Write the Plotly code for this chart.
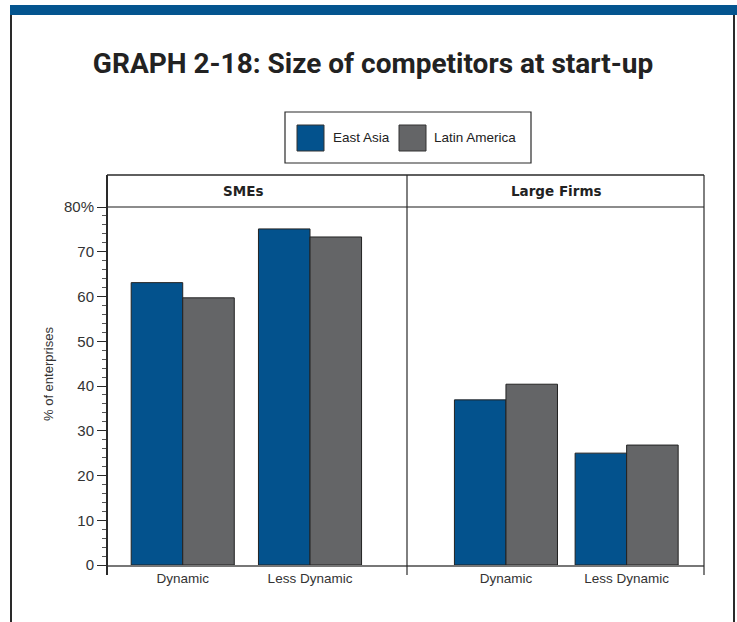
import plotly.graph_objects as go

# data
categories = ["Dynamic", "Less Dynamic"]
panels = ["SMEs", "Large Firms"]
series = ["East Asia", "Latin America"]
sme_east_asia = [63.1, 75.1]
sme_latin_america = [59.7, 73.3]
large_east_asia = [36.9, 25.0]
large_latin_america = [40.4, 26.8]
y_ticks = [0, 10, 20, 30, 40, 50, 60, 70, 80]
y_ticktext = ["0", "10", "20", "30", "40", "50", "60", "70", "80%"]

BLUE = "#03528d"
GREY = "#646567"
INK = "#2a2a2a"

W, H = 737, 622
L, R, T, B = 107, 704, 175, 565      # plot box in pixels (header included)


def px_x(px):
    return (px - L) / (R - L)


def px_y(py):
    return (B - py) / (B - T)


fig = go.Figure()

bar_line = dict(color="#222", width=1)
# SMEs panel
fig.add_trace(go.Bar(x=categories, y=sme_east_asia, name=series[0], marker=dict(color=BLUE, line=bar_line),
                     width=0.405, offset=-0.405, xaxis="x", yaxis="y", showlegend=False))
fig.add_trace(go.Bar(x=categories, y=sme_latin_america, name=series[1], marker=dict(color=GREY, line=bar_line),
                     width=0.405, offset=0, xaxis="x", yaxis="y", showlegend=False))
# Large firms panel
fig.add_trace(go.Bar(x=categories, y=large_east_asia, name=series[0], marker=dict(color=BLUE, line=bar_line),
                     width=0.427, offset=-0.427, xaxis="x2", yaxis="y", showlegend=False))
fig.add_trace(go.Bar(x=categories, y=large_latin_america, name=series[1], marker=dict(color=GREY, line=bar_line),
                     width=0.427, offset=0, xaxis="x2", yaxis="y", showlegend=False))

split = px_x(407)
head = px_y(207)
tick_font = dict(family="Liberation Sans, Arial, sans-serif", size=13.5, color="#333")

fig.update_layout(
    width=W, height=H, barmode="overlay",
    margin=dict(l=L, r=W - R, t=T, b=H - B),
    paper_bgcolor="white", plot_bgcolor="white",
    title=dict(text="GRAPH 2-18: Size of competitors at start-up",
               x=373 / W, y=1 - 63 / H, xref="container", yref="container",
               xanchor="center", yanchor="middle",
               font=dict(family="Roboto, Liberation Sans, sans-serif",
                         size=28, color="#222", weight="bold")),
    xaxis=dict(domain=[0, split], type="category", range=[-0.595, 1.762],
               showline=True, linecolor="#777", linewidth=1.5, ticks="",
               showgrid=False, tickfont=tick_font, ticklabelstandoff=0, fixedrange=True),
    xaxis2=dict(domain=[split, 1], type="category", range=[-0.820, 1.641], anchor="y",
                showline=True, linecolor="#777", linewidth=1.5, ticks="",
                showgrid=False, tickfont=tick_font, ticklabelstandoff=0, fixedrange=True),
    yaxis=dict(domain=[0, head], range=[0, 80], tickvals=y_ticks, ticktext=y_ticktext,
               ticks="outside", ticklen=9, tickcolor=INK, tickwidth=1,
               minor=dict(dtick=2, ticks="outside", ticklen=4, tickcolor="#555"),
               showgrid=False, zeroline=False, showline=False, fixedrange=True,
               tickfont=dict(family="Liberation Sans, Arial, sans-serif", size=15, color="#333")),
)

shapes = []
# top blue band and page frame
shapes.append(dict(type="rect", xref="paper", yref="paper", x0=px_x(10), x1=px_x(740),
                   y0=px_y(15), y1=px_y(5), fillcolor="#04558f", line=dict(width=0), layer="below"))
for fx in (11, 734):
    shapes.append(dict(type="line", xref="paper", yref="paper", x0=px_x(fx), x1=px_x(fx),
                       y0=px_y(630), y1=px_y(15), line=dict(color=INK, width=2)))
# panel frame
shapes.append(dict(type="line", xref="paper", yref="paper", x0=0, x1=1, y0=1, y1=1,
                   line=dict(color=INK, width=1.5)))
shapes.append(dict(type="line", xref="paper", yref="paper", x0=0, x1=1, y0=head, y1=head,
                   line=dict(color="#666", width=1.5)))
for fx, w in ((0, 2), (split, 1.2), (1, 1.2)):
    shapes.append(dict(type="line", xref="paper", yref="paper", x0=fx, x1=fx,
                       y0=px_y(575), y1=1, line=dict(color=INK, width=w)))
# legend box
shapes.append(dict(type="rect", xref="paper", yref="paper", x0=px_x(285), x1=px_x(531),
                   y0=px_y(163), y1=px_y(112), line=dict(color=INK, width=1.2), fillcolor="white"))
for sx, col in ((297, BLUE), (399, GREY)):
    shapes.append(dict(type="rect", xref="paper", yref="paper", x0=px_x(sx), x1=px_x(sx + 27),
                       y0=px_y(151), y1=px_y(125), line=dict(color="#333", width=1), fillcolor=col))
fig.update_layout(shapes=shapes)

ann = []
for tx, txt in ((331, series[0]), (432, series[1])):
    ann.append(dict(text=txt, xref="paper", yref="paper", x=px_x(tx), y=px_y(138),
                    xanchor="left", yanchor="middle", showarrow=False,
                    font=dict(family="Liberation Sans, Arial, sans-serif", size=13.5, color="#222")))
for hx, txt in ((243, panels[0]), (556, panels[1])):
    ann.append(dict(text=txt, xref="paper", yref="paper", x=px_x(hx), y=px_y(191),
                    xanchor="center", yanchor="middle", showarrow=False,
                    font=dict(family="DejaVu Sans, sans-serif", size=13.5, color="#222", weight="bold")))
ann.append(dict(text="% of enterprises", xref="paper", yref="paper", x=px_x(48), y=px_y(374),
                textangle=-90, xanchor="center", yanchor="middle", showarrow=False,
                font=dict(family="Liberation Sans, Arial, sans-serif", size=13, color="#333")))
fig.update_layout(annotations=ann)

# drop the default 8px page margin so the figure fills the window exactly
fig.write_html("out.html", config={"displayModeBar": False},
               post_script="document.body.style.margin='0';document.body.style.overflow='hidden';")
